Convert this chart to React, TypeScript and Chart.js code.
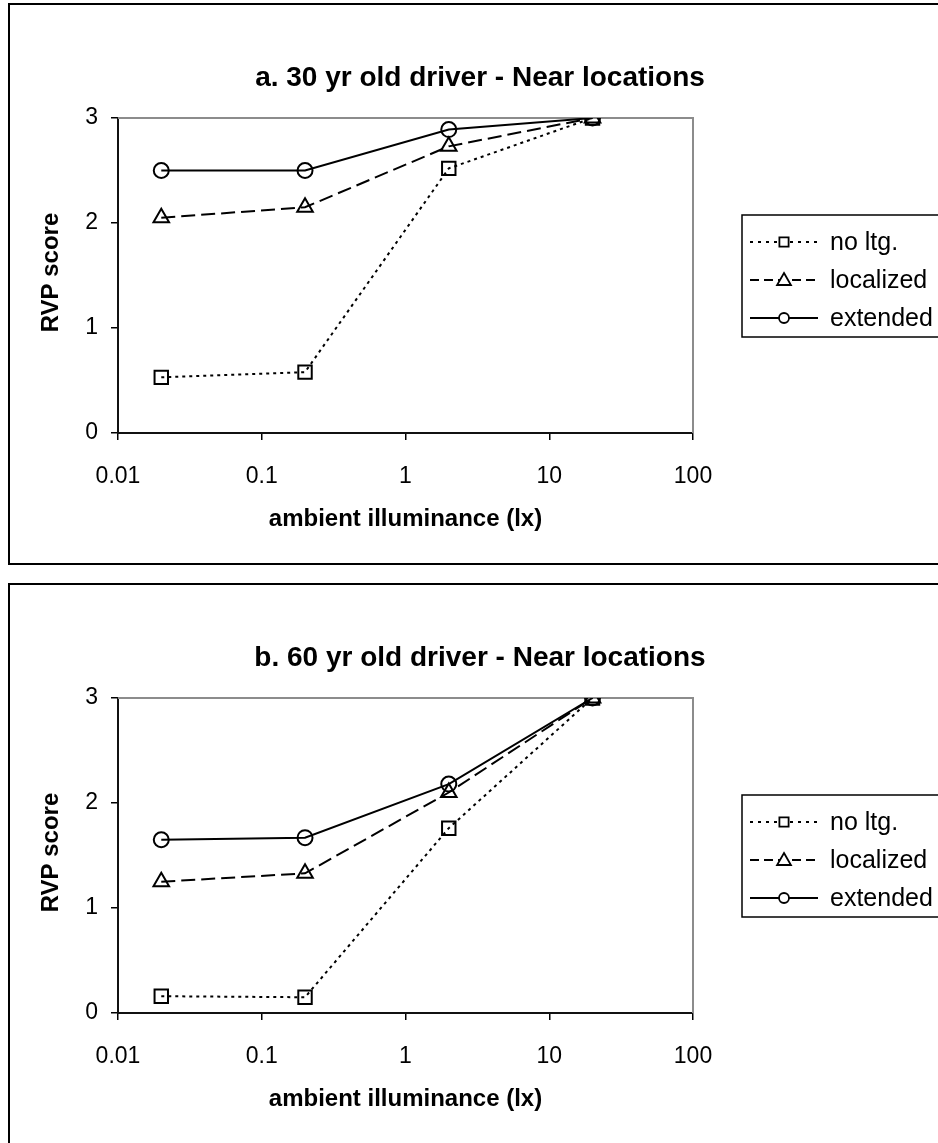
import React, { useEffect, useRef } from 'react';
import { Chart, registerables } from 'chart.js';

Chart.register(...registerables);

// Measured illuminance levels (lx) and axis ticks
const illuminance = [0.02, 0.2, 2, 20];
const xTickValues = [0.01, 0.1, 1, 10, 100];
const yTickMax = 3;

const seriesNames = ['no ltg.', 'localized', 'extended'];

// Panel a: 30 yr old driver
const panelATitle = 'a. 30 yr old driver - Near locations';
const panelANoLtg = [0.53, 0.58, 2.52, 3.0];
const panelALocalized = [2.05, 2.15, 2.73, 3.0];
const panelAExtended = [2.5, 2.5, 2.89, 3.0];

// Panel b: 60 yr old driver
const panelBTitle = 'b. 60 yr old driver - Near locations';
const panelBNoLtg = [0.16, 0.15, 1.76, 3.0];
const panelBLocalized = [1.25, 1.33, 2.1, 3.0];
const panelBExtended = [1.65, 1.67, 2.18, 3.0];

const yAxisTitle = 'RVP score';
const xAxisTitle = 'ambient illuminance (lx)';

const FONT = "'Liberation Sans', Arial, Helvetica, sans-serif";

type SeriesStyle = {
  dash: number[];
  legendDash: number[];
  pointStyle: 'rect' | 'triangle' | 'circle';
  radius: number;
};

const seriesStyles: SeriesStyle[] = [
  { dash: [3, 4], legendDash: [3, 5], pointStyle: 'rect', radius: 9.5 },
  { dash: [14, 6], legendDash: [9, 5], pointStyle: 'triangle', radius: 9 },
  { dash: [], legendDash: [], pointStyle: 'circle', radius: 7.5 },
];

function drawMarker(ctx: CanvasRenderingContext2D, style: string, x: number, y: number, r: number) {
  ctx.beginPath();
  if (style === 'rect') {
    const h = r * Math.SQRT1_2;
    ctx.rect(x - h, y - h, 2 * h, 2 * h);
  } else if (style === 'triangle') {
    ctx.moveTo(x, y - r);
    ctx.lineTo(x + r * Math.sin((2 * Math.PI) / 3), y - r * Math.cos((2 * Math.PI) / 3));
    ctx.lineTo(x + r * Math.sin((4 * Math.PI) / 3), y - r * Math.cos((4 * Math.PI) / 3));
    ctx.closePath();
  } else {
    ctx.arc(x, y, r, 0, Math.PI * 2);
  }
  ctx.fillStyle = '#fff';
  ctx.fill();
  ctx.stroke();
}

const panelDecor = {
  id: 'panelDecor',
  beforeDatasetsDraw(chart: any) {
    const { ctx, chartArea: a } = chart;
    ctx.save();
    ctx.strokeStyle = '#8c8c8c';
    ctx.lineWidth = 2;
    ctx.beginPath();
    ctx.moveTo(a.left, a.top);
    ctx.lineTo(a.right, a.top);
    ctx.lineTo(a.right, a.bottom);
    ctx.stroke();
    ctx.restore();
  },
  afterDraw(chart: any, _args: any, opts: any) {
    const { ctx, chartArea: a } = chart;
    ctx.save();
    ctx.fillStyle = '#000';
    ctx.textBaseline = 'middle';

    // chart title
    ctx.textAlign = 'center';
    ctx.font = `bold 28px ${FONT}`;
    ctx.fillText(opts.title, 470, 73);

    // x axis title
    ctx.font = `bold 24px ${FONT}`;
    ctx.fillText(xAxisTitle, (a.left + a.right) / 2, 514);

    // y axis title
    ctx.save();
    ctx.translate(41, (a.top + a.bottom) / 2 - 3);
    ctx.rotate(-Math.PI / 2);
    ctx.fillText(yAxisTitle, 0, 0);
    ctx.restore();

    // legend
    const lx = 732;
    const ly = 210;
    ctx.strokeStyle = '#000';
    ctx.lineWidth = 1.5;
    ctx.strokeRect(lx, ly, 230, 122);
    ctx.font = `25px ${FONT}`;
    ctx.textAlign = 'left';
    seriesNames.forEach((name, i) => {
      const st = seriesStyles[i];
      const cy = ly + 27 + i * 38;
      ctx.lineWidth = 2;
      ctx.setLineDash(st.legendDash);
      ctx.beginPath();
      ctx.moveTo(740, cy);
      ctx.lineTo(808, cy);
      ctx.stroke();
      ctx.setLineDash([]);
      ctx.lineWidth = 1.8;
      const r = st.pointStyle === 'rect' ? 6.5 : st.pointStyle === 'triangle' ? 8 : 5;
      drawMarker(ctx, st.pointStyle, 774, st.pointStyle === 'triangle' ? cy + 1 : cy, r);
      ctx.fillStyle = '#000';
      ctx.fillText(name, 820, cy + 1);
    });
    ctx.restore();
  },
};

function buildConfig(title: string, noLtg: number[], localized: number[], extended: number[]) {
  const seriesValues = [noLtg, localized, extended];
  const tickFont = { family: FONT, size: 23 };
  return {
    type: 'line' as const,
    data: {
      datasets: seriesValues.map((vals, i) => {
        const st = seriesStyles[i];
        return {
          label: seriesNames[i],
          data: illuminance.map((x, j) => ({ x, y: vals[j] })),
          borderColor: '#000',
          borderWidth: 2,
          borderDash: st.dash,
          pointStyle: st.pointStyle,
          pointRadius: st.radius,
          pointBorderWidth: 2,
          pointBorderColor: '#000',
          pointBackgroundColor: 'rgba(255,255,255,0)',
          fill: false,
          tension: 0,
        };
      }),
    },
    options: {
      animation: false,
      responsive: false,
      devicePixelRatio: 1,
      layout: { padding: { left: 0, right: 257, top: 113, bottom: 0 } },
      plugins: {
        legend: { display: false },
        title: { display: false },
        tooltip: { enabled: false },
        panelDecor: { title },
      },
      scales: {
        x: {
          type: 'logarithmic',
          min: xTickValues[0],
          max: xTickValues[xTickValues.length - 1],
          afterBuildTicks: (s: any) => {
            s.ticks = xTickValues.map((v) => ({ value: v }));
          },
          afterFit: (s: any) => {
            s.height = 130;
          },
          ticks: {
            autoSkip: false,
            maxRotation: 0,
            color: '#000',
            font: tickFont,
            padding: 23,
            callback: (v: any) => String(v),
          },
          grid: { drawOnChartArea: false, drawTicks: true, tickLength: 7, color: '#000', lineWidth: 1.5 },
          border: { display: true, color: '#111', width: 2 },
        },
        y: {
          min: 0,
          max: yTickMax,
          afterFit: (s: any) => {
            s.width = 108;
          },
          ticks: { stepSize: 1, color: '#000', font: tickFont, padding: 13 },
          grid: { drawOnChartArea: false, drawTicks: true, tickLength: 7, color: '#000', lineWidth: 1.5 },
          border: { display: true, color: '#111', width: 2 },
        },
      },
    },
    plugins: [panelDecor],
  };
}

function Panel(props: { top: number; title: string; noLtg: number[]; localized: number[]; extended: number[] }) {
  const ref = useRef<HTMLCanvasElement>(null);
  useEffect(() => {
    if (!ref.current) return;
    const chart = new Chart(ref.current, buildConfig(props.title, props.noLtg, props.localized, props.extended) as any);
    return () => chart.destroy();
  }, []);
  return (
    <div
      style={{
        position: 'absolute',
        left: 8,
        top: props.top,
        width: 944,
        height: 562,
        border: '2px solid #000',
        boxSizing: 'border-box',
        background: '#fff',
      }}
    >
      <canvas ref={ref} width={940} height={558} style={{ display: 'block', width: 940, height: 558 }} />
    </div>
  );
}

export default function App() {
  return (
    <div
      style={{
        position: 'absolute',
        left: 0,
        top: 0,
        width: 938,
        height: 1143,
        overflow: 'hidden',
        background: '#fff',
      }}
    >
      <Panel top={3} title={panelATitle} noLtg={panelANoLtg} localized={panelALocalized} extended={panelAExtended} />
      <Panel top={583} title={panelBTitle} noLtg={panelBNoLtg} localized={panelBLocalized} extended={panelBExtended} />
    </div>
  );
}
